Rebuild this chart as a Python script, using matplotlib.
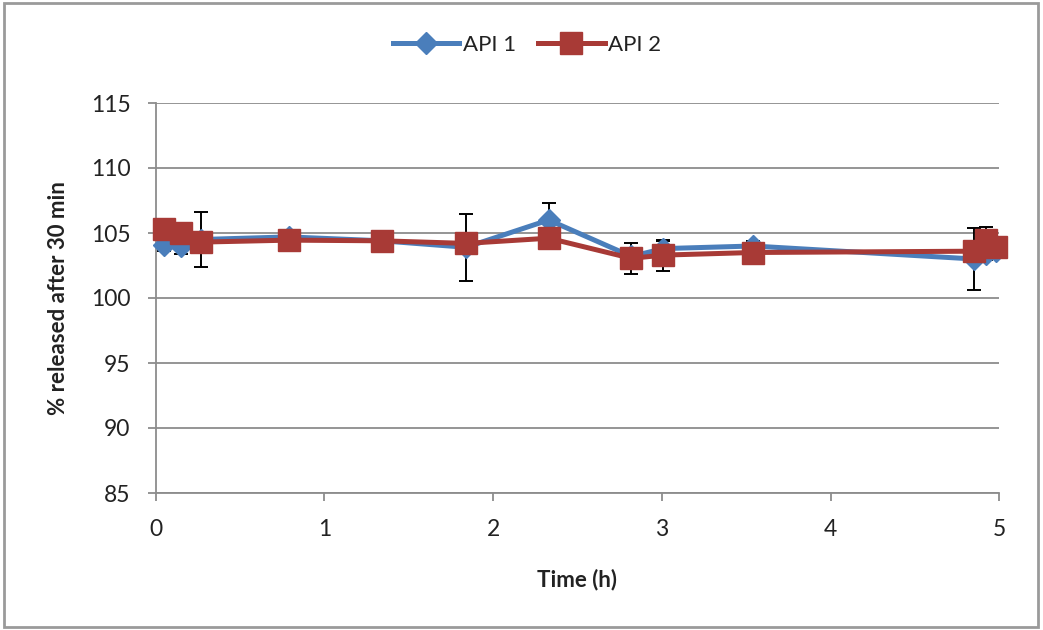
import matplotlib
matplotlib.use("Agg")
import matplotlib.pyplot as plt
from matplotlib.patches import Rectangle

# ---- data ----
time_api1 = [0.05, 0.15, 0.27, 0.79, 1.34, 1.84, 2.33, 2.82, 3.01, 3.54, 4.85, 4.92, 4.98]
api1 = [104.1, 104.0, 104.5, 104.7, 104.4, 103.9, 106.0, 103.2, 103.8, 104.0, 103.0, 103.4, 103.6]
api1_err = [0.5, 0.6, 2.1, 0.3, 0.5, 2.6, 1.3, 0.6, 0.6, 0.4, 2.4, 0.5, 0.4]

time_api2 = [0.05, 0.15, 0.27, 0.79, 1.34, 1.84, 2.33, 2.82, 3.01, 3.54, 4.85, 4.92, 4.98]
api2 = [105.3, 105.0, 104.3, 104.45, 104.4, 104.2, 104.6, 103.05, 103.3, 103.5, 103.6, 104.5, 103.9]
api2_err = [0.4, 0.5, 0.4, 0.3, 0.6, 0.3, 0.3, 1.2, 1.2, 0.3, 0.4, 1.0, 0.5]

x_ticks = [0, 1, 2, 3, 4, 5]
y_ticks = [85, 90, 95, 100, 105, 110, 115]
series_names = ["API 1", "API 2"]

plt.rcParams['font.family'] = ['Lato', 'DejaVu Sans']

fig = plt.figure(figsize=(10.43, 6.30), dpi=100)
ax = fig.add_axes([155.5/1043, 137/630, (999.3-155.5)/1043, (493-103)/630])

blue = '#4A7EBB'
red = '#A83A36'

ax.errorbar(time_api1, api1, yerr=api1_err, fmt='none', ecolor='black',
            elinewidth=1.4, capsize=5, capthick=1.4, zorder=3, clip_on=False)
ax.errorbar(time_api2, api2, yerr=api2_err, fmt='none', ecolor='black',
            elinewidth=1.4, capsize=5, capthick=1.4, zorder=3, clip_on=False)
ax.plot(time_api1, api1, color=blue, lw=3.6, marker='D', markersize=11,
        markerfacecolor=blue, markeredgecolor=blue, label=series_names[0],
        zorder=4, clip_on=False)
ax.plot(time_api2, api2, color=red, lw=3.6, marker='s', markersize=15.5,
        markerfacecolor=red, markeredgecolor=red, label=series_names[1],
        zorder=5, clip_on=False)

ax.set_xlim(0, 5)
ax.set_ylim(85, 115)
ax.set_xticks(x_ticks)
ax.set_yticks(y_ticks)
ax.set_xticklabels([str(v) for v in x_ticks])
ax.set_yticklabels([str(v) for v in y_ticks])

ax.grid(axis='y', color='#8c8c8c', linewidth=1.3)
ax.set_axisbelow(True)
for s in ['top', 'right']:
    ax.spines[s].set_visible(False)
for s in ['left', 'bottom']:
    ax.spines[s].set_color('#8c8c8c')
    ax.spines[s].set_linewidth(1.3)
ax.tick_params(axis='both', direction='out', length=6, width=1.3, color='#8c8c8c',
               labelsize=16.5, labelcolor='#222222')
ax.tick_params(axis='y', pad=12)
ax.tick_params(axis='x', pad=13)

ax.set_xlabel('Time (h)', fontsize=16, fontweight='bold', color='#222222', labelpad=20)
ax.set_ylabel('% released after 30 min', fontsize=16, fontweight='bold', color='#222222', labelpad=16)

leg = fig.legend(loc='center', bbox_to_anchor=(527/1043, 1 - 45/630), ncol=2,
                 frameon=False, fontsize=16, handlelength=3.0, columnspacing=1.0,
                 handletextpad=0.15)
for t in leg.get_texts():
    t.set_color('#222222')

fig.patches.append(Rectangle((4/1043, 3/630), (1038-4)/1043, (627-3)/630,
                             transform=fig.transFigure, fill=False,
                             edgecolor='#9a9a9a', linewidth=2))

fig.savefig('out.png', dpi=100)
